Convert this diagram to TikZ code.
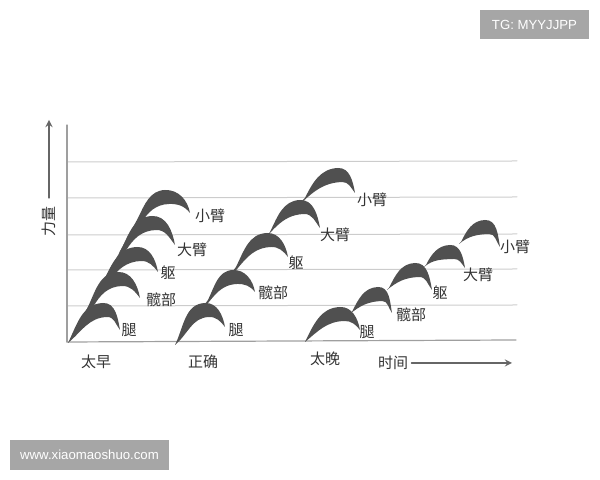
\documentclass[tikz,border=0pt]{standalone}
\usepackage{fontspec}
\newfontfamily\cjk{Noto Sans CJK SC}
\newfontfamily\wmfont{Liberation Sans}
\usetikzlibrary{calc}
\definecolor{humpgray}{HTML}{505050}
\definecolor{wmgray}{HTML}{A6A6A6}
\tikzset{
	humpfill/.style={fill=humpgray},
	gridline/.style={draw=gray!40, line width=0.5pt},
	axisline/.style={draw=gray!75, line width=0.6pt},
	lab/.style={font=\cjk\fontsize{7.5}{8}\selectfont, text=black!80, inner sep=0pt},
	wmbox/.style={fill=wmgray, text=white, font=\wmfont\fontsize{6.6}{7}\selectfont, inner sep=0pt}
}
% one hump: left foot, peak, tail, foot of the inner edge
\newcommand{\hump}[4]{\fill[humpfill] (#1) to[out=64,in=182] (#2) to[out=2,in=100] (#3) to[out=128,in=2] ($(#2)+(4,-14)$) to[out=182,in=40] (#4) -- (#1) -- cycle;}
\begin{document}
\begin{tikzpicture}[x=0.5pt, y=0.5pt, line join=round, line cap=round, >=stealth]
	\useasboundingbox (0,0) rectangle (600,480);
	% axes and grid
	\coordinate (O) at (67,138);
	\coordinate (Top) at (67,355);
	\coordinate (End) at (516,140);
	\foreach \h in {174,210,245,282,318}
		\draw[gridline] (67,\h) -- (517,\h+1);
	\draw[axisline] (O) -- (Top);
	\draw[axisline] (O) -- (End);
	% force arrow
	\coordinate (fa) at (49,282);
	\coordinate (fb) at (49,360);
	\draw[->, gray!80!black, line width=0.6pt] (fa) -- (fb);
	\node[lab, rotate=90] (force) at (49,258) {力量};
	% time arrow
	\node[lab] (time) at (393,117) {时间};
	\coordinate (tb) at (512,117);
	\draw[->, gray!80!black, line width=0.6pt] (time.east) ++(3,0) coordinate (ta) -- (tb);
	\node[lab] (early) at (96,118) {太早};
	\node[lab] (right) at (203,118) {正确};
	\node[lab] (late) at (325,121) {太晚};
	% humps
	\foreach \lx/\ly/\px/\py/\tx/\ty/\fx/\fy in {
		68/137/103/177/120/150/68/137, 87/171/118/208/140/182/70/140,
		104/200/137/233/158/208/85/168, 121/230/152/264/175/235/102/197,
		138/262/165/290/190/267/119/227,
		175/135/205/177/225/153/175/135, 208/180/233/210/255/188/195/163,
		236/213/267/247/288/223/222/195, 270/248/300/280/320/252/253/230,
		305/282/338/312/355/287/288/265,
		305/138/340/173/360/150/305/138, 352/168/378/193/392/167/350/166,
		389/192/415/217/432/190/387/190, 426/215/450/235/465/212/424/213,
		461/238/485/260/500/233/459/236}
		\hump{\lx,\ly}{\px,\py}{\tx,\ty}{\fx,\fy};
	% labels
	\foreach \x/\y/\txt [count=\i] in {
		129/150/腿, 161/180/髋部, 168/207/躯, 192/230/大臂, 210/264/小臂,
		236/150/腿, 273/187/髋部, 296/217/躯, 335/245/大臂, 372/280/小臂,
		367/148/腿, 411/165/髋部, 440/187/躯, 478/205/大臂, 515/233/小臂}
		\node[lab] (l\i) at (\x,\y) {\txt};
	% watermarks
	\node[wmbox, minimum width=54.5pt, minimum height=14.5pt] (tg) at (534.5,455.5) {TG: MYYJJPP};
	\node[wmbox, minimum width=79.5pt, minimum height=15pt] (site) at (89.5,25) {www.xiaomaoshuo.com};
\end{tikzpicture}
\end{document}
